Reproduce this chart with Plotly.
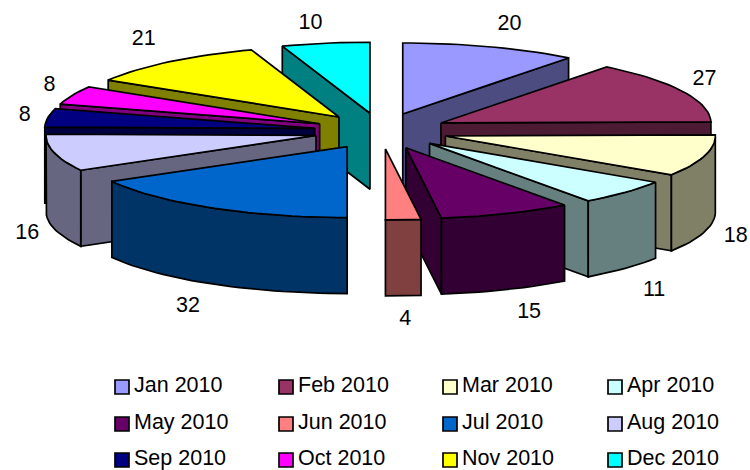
import math
import plotly.graph_objects as go

months = ["Jan 2010", "Feb 2010", "Mar 2010", "Apr 2010", "May 2010", "Jun 2010",
          "Jul 2010", "Aug 2010", "Sep 2010", "Oct 2010", "Nov 2010", "Dec 2010"]
values = [20, 27, 18, 11, 15, 4, 32, 16, 8, 8, 21, 10]
colors = ["#9999FF", "#993366", "#FFFFCC", "#CCFFFF", "#660066", "#FF8080",
          "#0066CC", "#CCCCFF", "#000080", "#FF00FF", "#FFFF00", "#00FFFF"]

# projection of the tilted exploded pie, in pixels
CX, CY = 381, 131
RX, RY = 270, 71
EX, EY = 67, 18
DEPTH = 76
LINE = 1.7
FONT = dict(family="Liberation Sans, Arial, sans-serif", size=21.5, color="black")
label_offsets = [(19, -22), (22, -12), (31, 5), (29, 22), (23, 23), (2, 24),
                 (-23, 23), (-27, 5), (-23, -2), (-23, -10), (-26, -22), (-15, -20)]


def shade(hex_color, f=0.5):
    r, g, b = (int(hex_color[i:i + 2], 16) for i in (1, 3, 5))
    return f"rgb({round(r * f)},{round(g * f)},{round(b * f)})"


def poly(xs, ys, fill):
    return go.Scatter(x=xs, y=ys, mode="lines", fill="toself", fillcolor=fill,
                      line=dict(color="black", width=LINE), hoverinfo="skip",
                      showlegend=False)


total = sum(values)
slices = []
cum = 0
for i, v in enumerate(values):
    a0 = cum / total * 2 * math.pi
    cum += v
    a1 = cum / total * 2 * math.pi
    slices.append((i, a0, a1, (a0 + a1) / 2))

fig = go.Figure()
label_x, label_y = [0] * 12, [0] * 12

for i, a0, a1, mid in sorted(slices, key=lambda s: -math.cos(s[3])):
    ax = CX + EX * math.sin(mid)
    ay = CY - EY * math.cos(mid)
    px = lambda a: ax + RX * math.sin(a)
    py = lambda a: ay - RY * math.cos(a)
    n = max(4, int((a1 - a0) * 30))
    arc = [a0 + (a1 - a0) * k / n for k in range(n + 1)]
    side = shade(colors[i])

    # only the radial walls that face the viewer
    walls = []
    if math.sin(a0) < -1e-9:
        walls.append(a0)
    if math.sin(a1) > 1e-9:
        walls.append(a1)
    for a in walls:
        fig.add_trace(poly([ax, px(a), px(a), ax, ax],
                           [ay, py(a), py(a) + DEPTH, ay + DEPTH, ay], side))

    front = [a for a in arc if math.cos(a) <= 0]
    if len(front) >= 2:
        xs = [px(a) for a in front]
        ys = [py(a) for a in front]
        fig.add_trace(poly(xs + xs[::-1] + xs[:1],
                           ys + [y + DEPTH for y in ys[::-1]] + ys[:1], side))

    fig.add_trace(poly([ax] + [px(a) for a in arc] + [ax],
                       [ay] + [py(a) for a in arc] + [ay], colors[i]))

    dx, dy = label_offsets[i]
    label_x[i] = px(mid) + dx
    label_y[i] = py(mid) + dy + (DEPTH if math.cos(mid) < 0 else 0)

fig.add_trace(go.Scatter(x=label_x, y=label_y, mode="text",
                         text=[str(v) for v in values], textfont=FONT,
                         textposition="middle center", hoverinfo="skip",
                         showlegend=False))

# legend grid: four columns, three rows
LEG_X = [122, 286, 450, 615]
LEG_Y = [387, 424, 460]
for i, name in enumerate(months):
    x, y = LEG_X[i % 4], LEG_Y[i // 4]
    fig.add_trace(go.Scatter(
        x=[x], y=[y], mode="markers",
        marker=dict(symbol="square", size=14, color=colors[i],
                    line=dict(color="black", width=1.7)),
        name=name, showlegend=False, hoverinfo="skip"))
    fig.add_trace(go.Scatter(
        x=[x + 12], y=[y - 0.5], mode="text", text=[name],
        textposition="middle right", textfont=FONT,
        showlegend=False, hoverinfo="skip"))

fig.update_layout(
    width=750, height=470, margin=dict(l=0, r=0, t=0, b=0),
    paper_bgcolor="white", plot_bgcolor="white", showlegend=False,
    xaxis=dict(range=[0, 750], visible=False, fixedrange=True),
    yaxis=dict(range=[470, 0], visible=False, fixedrange=True),
)
fig.write_html("out.html", post_script="document.body.style.margin='0';",
               config=dict(displayModeBar=False))
